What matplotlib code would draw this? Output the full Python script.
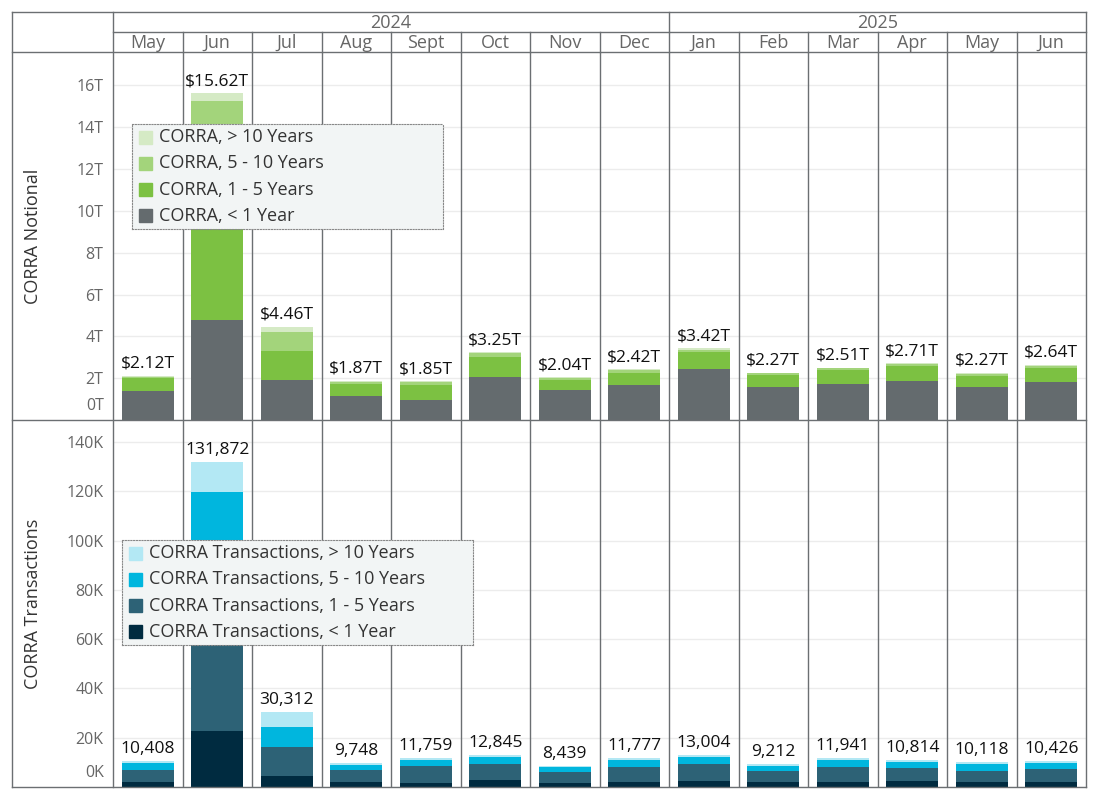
import matplotlib.pyplot as plt
import matplotlib.patches as mpatches
from matplotlib.lines import Line2D
import numpy as np

plt.rcParams['font.family'] = ['Open Sans', 'DejaVu Sans']

# ---- data ----
months = ['May', 'Jun', 'Jul', 'Aug', 'Sept', 'Oct', 'Nov', 'Dec',
          'Jan', 'Feb', 'Mar', 'Apr', 'May', 'Jun']
years = ['2024', '2025']
months_per_year = [8, 6]

# notional, trillions
notional_lt1 = [1.40, 4.76, 1.89, 1.17, 0.96, 2.06, 1.44, 1.68, 2.42, 1.60, 1.74, 1.85, 1.56, 1.84]
notional_1_5 = [0.60, 9.00, 1.39, 0.57, 0.71, 0.96, 0.48, 0.57, 0.82, 0.56, 0.64, 0.75, 0.55, 0.64]
notional_5_10 = [0.08, 1.48, 0.91, 0.09, 0.14, 0.17, 0.08, 0.12, 0.13, 0.07, 0.09, 0.07, 0.11, 0.11]
notional_gt10 = [0.04, 0.38, 0.27, 0.04, 0.04, 0.06, 0.04, 0.05, 0.05, 0.04, 0.04, 0.04, 0.05, 0.05]
notional_total = [2.12, 15.62, 4.46, 1.87, 1.85, 3.25, 2.04, 2.42, 3.42, 2.27, 2.51, 2.71, 2.27, 2.64]

# transactions, thousands
trans_lt1 = [2.1, 22.8, 4.5, 2.1, 1.7, 2.9, 1.6, 2.2, 2.6, 2.1, 2.2, 2.6, 2.1, 2.1]
trans_1_5 = [5.0, 66.9, 11.8, 4.9, 6.9, 6.5, 4.5, 6.1, 6.9, 4.4, 6.1, 5.2, 4.5, 5.3]
trans_5_10 = [2.7, 30.0, 8.0, 2.1, 2.4, 2.7, 1.9, 2.8, 2.8, 2.0, 2.8, 2.2, 2.8, 2.3]
trans_gt10 = [0.6, 12.2, 6.0, 0.6, 0.8, 0.7, 0.4, 0.7, 0.7, 0.7, 0.8, 0.8, 0.7, 0.7]
trans_total = [10408, 131872, 30312, 9748, 11759, 12845, 8439, 11777, 13004, 9212, 11941, 10814, 10118, 10426]

notional_series = [
    ('CORRA, < 1 Year', notional_lt1, '#646b6e'),
    ('CORRA, 1 - 5 Years', notional_1_5, '#7cc142'),
    ('CORRA, 5 - 10 Years', notional_5_10, '#a3d47b'),
    ('CORRA, > 10 Years', notional_gt10, '#d5eac5'),
]
trans_series = [
    ('CORRA Transactions, < 1 Year', trans_lt1, '#002b40'),
    ('CORRA Transactions, 1 - 5 Years', trans_1_5, '#2d6276'),
    ('CORRA Transactions, 5 - 10 Years', trans_5_10, '#00b6de'),
    ('CORRA Transactions, > 10 Years', trans_gt10, '#b3e8f4'),
]

W, H = 1100, 800
BORDER = '#6b6f72'
GRID = '#ececec'
TICK = '#666666'

fig = plt.figure(figsize=(W / 100, H / 100), dpi=100)


def fx(px):
    return px / W


def fy(py):
    return 1 - py / H


x_left, x_axis, x_right = 12, 113, 1086
y_top, y_year, y_month, y_mid, y_bot = 12, 32, 52, 420, 787

ax_top = fig.add_axes([fx(x_axis), fy(y_mid), fx(x_right - x_axis), (y_mid - y_month) / H])
ax_bot = fig.add_axes([fx(x_axis), fy(y_bot), fx(x_right - x_axis), (y_bot - y_mid) / H])

x = np.arange(len(months))


def draw_panel(ax, series, totals, ymax, ticks, ticklabels, zero_label, label_fmt, ylabel, legend_box):
    bottom = np.zeros(len(months))
    for name, vals, color in series:
        ax.bar(x, vals, bottom=bottom, width=0.75, color=color, zorder=2, linewidth=0)
        bottom += np.array(vals)
    for xi, top, tot in zip(x, bottom, totals):
        ax.annotate(label_fmt(tot), xy=(xi, top), xytext=(0, 4), textcoords='offset pixels',
                    ha='center', va='bottom', fontsize=12.5, color='#111111', zorder=3)
    ax.set_xlim(-0.5, len(months) - 0.5)
    ax.set_ylim(0, ymax)
    ax.set_xticks([])
    ax.set_yticks(ticks)
    ax.set_yticklabels([''] + ticklabels[1:])
    ax.tick_params(axis='y', length=0, pad=7, labelsize=11.5, labelcolor=TICK)
    ax.annotate(zero_label, xy=(0, 0), xycoords=('axes fraction', 'data'), xytext=(-9, 14),
                textcoords='offset pixels', ha='right', va='center', fontsize=11.5, color=TICK)
    ax.yaxis.grid(True, color=GRID, linewidth=1, zorder=0)
    ax.set_axisbelow(True)
    for xi in x[:-1]:
        ax.axvline(xi + 0.5, color=BORDER, linewidth=1, zorder=1)
    for s in ax.spines.values():
        s.set_visible(False)
    ax.set_ylabel(ylabel, fontsize=13, color='#333333')
    ax.yaxis.set_label_coords(-(x_axis - 42) / (x_right - x_axis), 0.5)

    # legend drawn as a dotted box on top of the bars
    bx0, by0, bx1, by1 = legend_box
    lax = fig.add_axes([fx(bx0), fy(by1), fx(bx1 - bx0), (by1 - by0) / H], zorder=5)
    lax.set_xlim(bx0, bx1)
    lax.set_ylim(by1, by0)
    lax.set_xticks([])
    lax.set_yticks([])
    lax.set_facecolor('#f2f5f5')
    for s in lax.spines.values():
        s.set_linestyle((0, (1, 1.5)))
        s.set_color('#888888')
        s.set_linewidth(0.8)
    n = len(series)
    step = (by1 - by0) / n
    for i, (name, vals, color) in enumerate(reversed(series)):
        cy = by0 + step * (i + 0.5)
        lax.add_patch(mpatches.Rectangle((bx0 + 7, cy - 6.5), 13, 13, color=color))
        lax.text(bx0 + 27, cy, name, ha='left', va='center', fontsize=13, color='#333333')


draw_panel(ax_top, notional_series, notional_total, 17.6,
           [0, 2, 4, 6, 8, 10, 12, 14, 16],
           ['0T', '2T', '4T', '6T', '8T', '10T', '12T', '14T', '16T'], '0T',
           lambda v: f'${v:.2f}T', 'CORRA Notional', (132, 124, 443, 229))

draw_panel(ax_bot, trans_series, [t / 1000 for t in trans_total], 149,
           [0, 20, 40, 60, 80, 100, 120, 140],
           ['0K', '20K', '40K', '60K', '80K', '100K', '120K', '140K'], '0K',
           lambda v: f'{int(round(v * 1000)):,}', 'CORRA Transactions', (122, 540, 473, 645))

# ---- header and frame lines (figure pixels) ----
col_w = (x_right - x_axis) / len(months)


def hline(y, x0, x1):
    fig.add_artist(Line2D([fx(x0), fx(x1)], [fy(y), fy(y)], color=BORDER, linewidth=1))


def vline(xp, y0, y1):
    fig.add_artist(Line2D([fx(xp), fx(xp)], [fy(y0), fy(y1)], color=BORDER, linewidth=1))


hline(y_top, x_left, x_right)
hline(y_year, x_axis, x_right)
hline(y_month, x_left, x_right)
hline(y_mid, x_left, x_right)
hline(y_bot, x_left, x_right)
vline(x_left, y_top, y_bot)
vline(x_axis, y_top, y_bot)
vline(x_right, y_top, y_bot)
for i in range(1, len(months)):
    vline(x_axis + i * col_w, y_year, y_month)

start = 0
for yr, cnt in zip(years, months_per_year):
    x0 = x_axis + start * col_w
    x1 = x_axis + (start + cnt) * col_w
    if start > 0:
        vline(x0, y_top, y_year)
    fig.text(fx((x0 + x1) / 2), fy((y_top + y_year) / 2 + 1), yr, ha='center', va='center',
             fontsize=13, color=TICK)
    start += cnt

for i, m in enumerate(months):
    fig.text(fx(x_axis + (i + 0.5) * col_w), fy((y_year + y_month) / 2 + 1), m, ha='center',
             va='center', fontsize=13, color=TICK)

fig.savefig('out.png', dpi=100)
